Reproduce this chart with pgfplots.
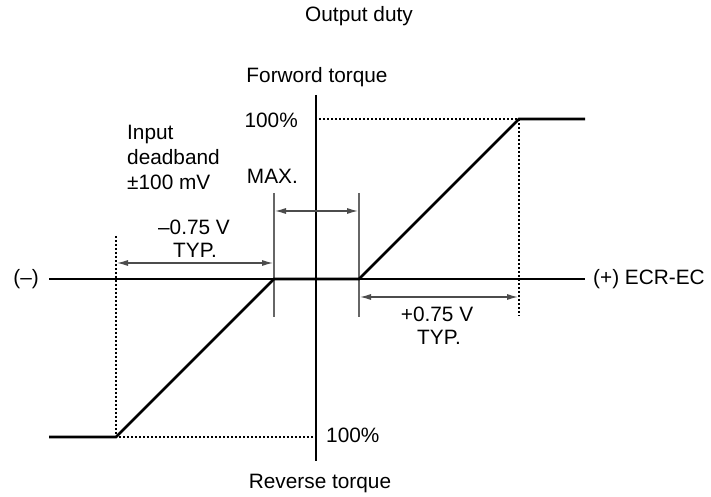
\documentclass[border=0pt]{standalone}
\usepackage{fontspec}
\setmainfont{Liberation Sans}
\usepackage{pgfplots}
\pgfplotsset{compat=1.18}
\usetikzlibrary{arrows.meta}
\definecolor{tickgray}{gray}{0.4}
\definecolor{arrowgray}{gray}{0.3}
\begin{document}
\begin{tikzpicture}[every node/.style={font=\fontsize{20.8}{25}\selectfont, inner sep=0pt}]
\begin{axis}[
  width=711pt, height=497pt, scale only axis,
  xmin=-316, xmax=395, ymin=-218, ymax=279,
  hide axis, clip=false,
]
\path (rel axis cs:0,0) rectangle (rel axis cs:1,1);
% axes
\addplot[black, line width=1.1pt] coordinates {(-267,0) (269,0)};
\addplot[black, line width=1.1pt] coordinates {(0,184) (0,-182)};
% dotted guides
\addplot[black, line width=1.1pt, dash pattern=on 2pt off 2pt] coordinates {(3,160) (203,160) (203,-37)};
\addplot[black, line width=1.1pt, dash pattern=on 2pt off 2pt] coordinates {(-200,43) (-200,-158) (-3,-158)};
% deadband limits
\addplot[tickgray, line width=1.3pt] coordinates {(-42,86) (-42,-38)};
\addplot[tickgray, line width=1.3pt] coordinates {(43,86) (43,-38)};
% dimension arrows
\addplot[arrowgray, line width=1.2pt, {Latex[length=11pt,width=6pt]}-{Latex[length=11pt,width=6pt]}] coordinates {(-41,68) (42,68)};
\addplot[arrowgray, line width=1.2pt, {Latex[length=11pt,width=6pt]}-{Latex[length=11pt,width=6pt]}] coordinates {(-199,16) (-43,16)};
\addplot[arrowgray, line width=1.2pt, {Latex[length=11pt,width=6pt]}-{Latex[length=11pt,width=6pt]}] coordinates {(44,-18) (202,-18)};
% characteristic
\addplot[black, line width=2.6pt] coordinates {(-267,-158) (-200,-158) (-42,0) (43,0) (203,160) (269,160)};
% texts
\node[anchor=base] at (axis cs:43,257) {Output duty};
\node[anchor=base] at (axis cs:1,196) {Forword torque};
\node[anchor=base east] at (axis cs:-18,151) {100\%};
\node[anchor=base west] at (axis cs:-189,139) {Input};
\node[anchor=base west] at (axis cs:-189,114) {deadband};
\node[anchor=base west] at (axis cs:-189,89) {±100 mV};
\node[anchor=base east] at (axis cs:-18,95) {MAX.};
\node[anchor=base] at (axis cs:-122,44) {–0.75 V};
\node[anchor=base] at (axis cs:-121,21) {TYP.};
\node[anchor=base] at (axis cs:121,-43) {+0.75 V};
\node[anchor=base] at (axis cs:123,-66) {TYP.};
\node[anchor=base east] at (axis cs:-277,-6) {(–)};
\node[anchor=base west] at (axis cs:277,-6) {(+) ECR-EC};
\node[anchor=base west] at (axis cs:10,-164) {100\%};
\node[anchor=base] at (axis cs:4,-210) {Reverse torque};
\end{axis}
\end{tikzpicture}
\end{document}
